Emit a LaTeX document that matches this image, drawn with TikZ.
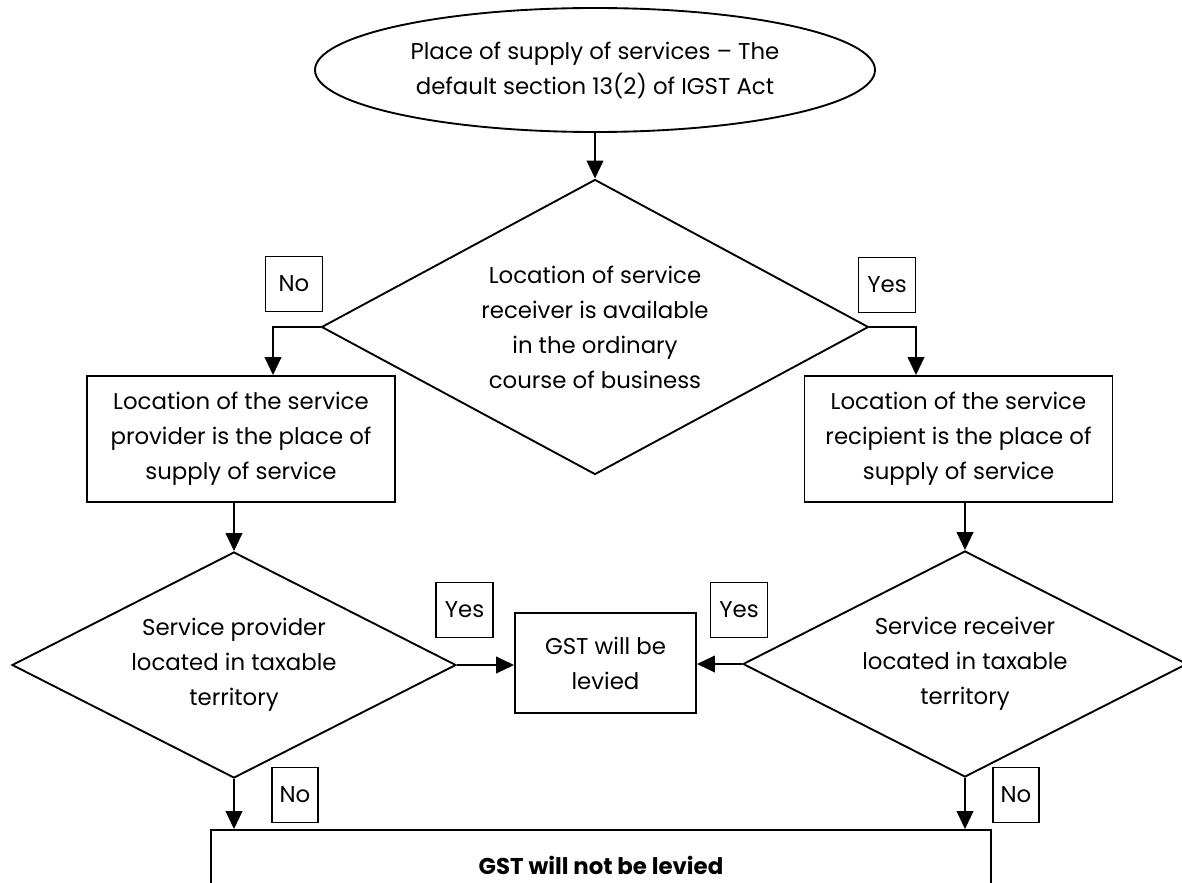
\documentclass[tikz,border=0pt]{standalone}
\usepackage{fontspec}
\setmainfont{Poppins}
\usepackage{tikz}
\usetikzlibrary{arrows.meta,positioning,shapes.geometric}
\newcommand{\chartfont}{\fontsize{19.5}{29.9}\selectfont}
\tikzset{
    every picture/.style={line join=miter},
    stepbox/.style={draw,line width=1.6pt,inner sep=0pt,align=center,
      minimum width=92.4mm,minimum height=37.8mm,font=\chartfont},
    startnode/.style={draw,ellipse,line width=1.6pt,inner sep=0pt,align=center,
      minimum width=168mm,minimum height=37.2mm,font=\chartfont},
    decision/.style={draw,diamond,line width=1.6pt,inner sep=0pt,align=center,
      aspect=1.9,font=\chartfont},
    answer/.style={draw,line width=1.2pt,inner sep=0pt,
      minimum width=17mm,minimum height=16.5mm,font=\chartfont},
    flowarrow/.style={-{Triangle[length=5.4mm,width=5mm]},line width=1.6pt}
}
\begin{document}
\begin{tikzpicture}[x=0.3mm,y=-0.3mm]
  \useasboundingbox (0,0) rectangle (1182,883);

  \node[startnode] (start) at (595,70)
    {Place of supply of services -- The\\default section 13(2) of IGST Act};
  \node[decision,aspect=1.85,minimum width=164.1mm,minimum height=88.5mm] (recv) at (595,327)
    {Location of service\\receiver is available\\in the ordinary\\course of business};

  \node[stepbox] (provbox) at (241,439)
    {Location of the service\\provider is the place of\\supply of service};
  \node[stepbox] (recpbox) at (958.5,439)
    {Location of the service\\recipient is the place of\\supply of service};

  \node[decision,minimum width=133.2mm,minimum height=67.8mm] (provtax) at (234,665)
    {Service provider\\located in taxable\\territory};
  \node[decision,minimum width=133.2mm,minimum height=67.8mm] (recvtax) at (965,664)
    {Service receiver\\located in taxable\\territory};

  \node[stepbox,minimum width=54.3mm,minimum height=30mm] (levied) at (605.5,663)
    {GST will be\\levied};
  \node[stepbox,minimum width=234mm,minimum height=21mm,font=\chartfont\bfseries]
    (notlevied) at (601,865) {GST will not be levied};

  % answer tags
  \node[answer] (noA) at (294,284) {No};
  \node[answer] (yesA) at (887,285) {Yes};
  \node[answer] (yesB) at (464.5,610) {Yes};
  \node[answer] (yesC) at (739,610) {Yes};
  \node[answer,minimum width=13.8mm] (noB) at (295,795) {No};
  \node[answer,minimum width=13.8mm] (noC) at (1016,795) {No};

  \draw[flowarrow] (start) -- (recv);
  \draw[flowarrow] (recv.west) -| ([xshift=9.6mm]provbox.north);
  \draw[flowarrow] (recv.east) -| ([xshift=-12.75mm]recpbox.north);
  \draw[flowarrow] (provtax.north |- provbox.south) -- (provtax.north);
  \draw[flowarrow] (recvtax.north |- recpbox.south) -- (recvtax.north);
  \draw[flowarrow] (provtax.east) -- (provtax.east -| levied.west);
  \draw[flowarrow] (recvtax.west) -- (recvtax.west -| levied.east);
  \draw[flowarrow] (provtax.south) -- (provtax.south |- notlevied.north);
  \draw[flowarrow] (recvtax.south) -- (recvtax.south |- notlevied.north);
\end{tikzpicture}
\end{document}
